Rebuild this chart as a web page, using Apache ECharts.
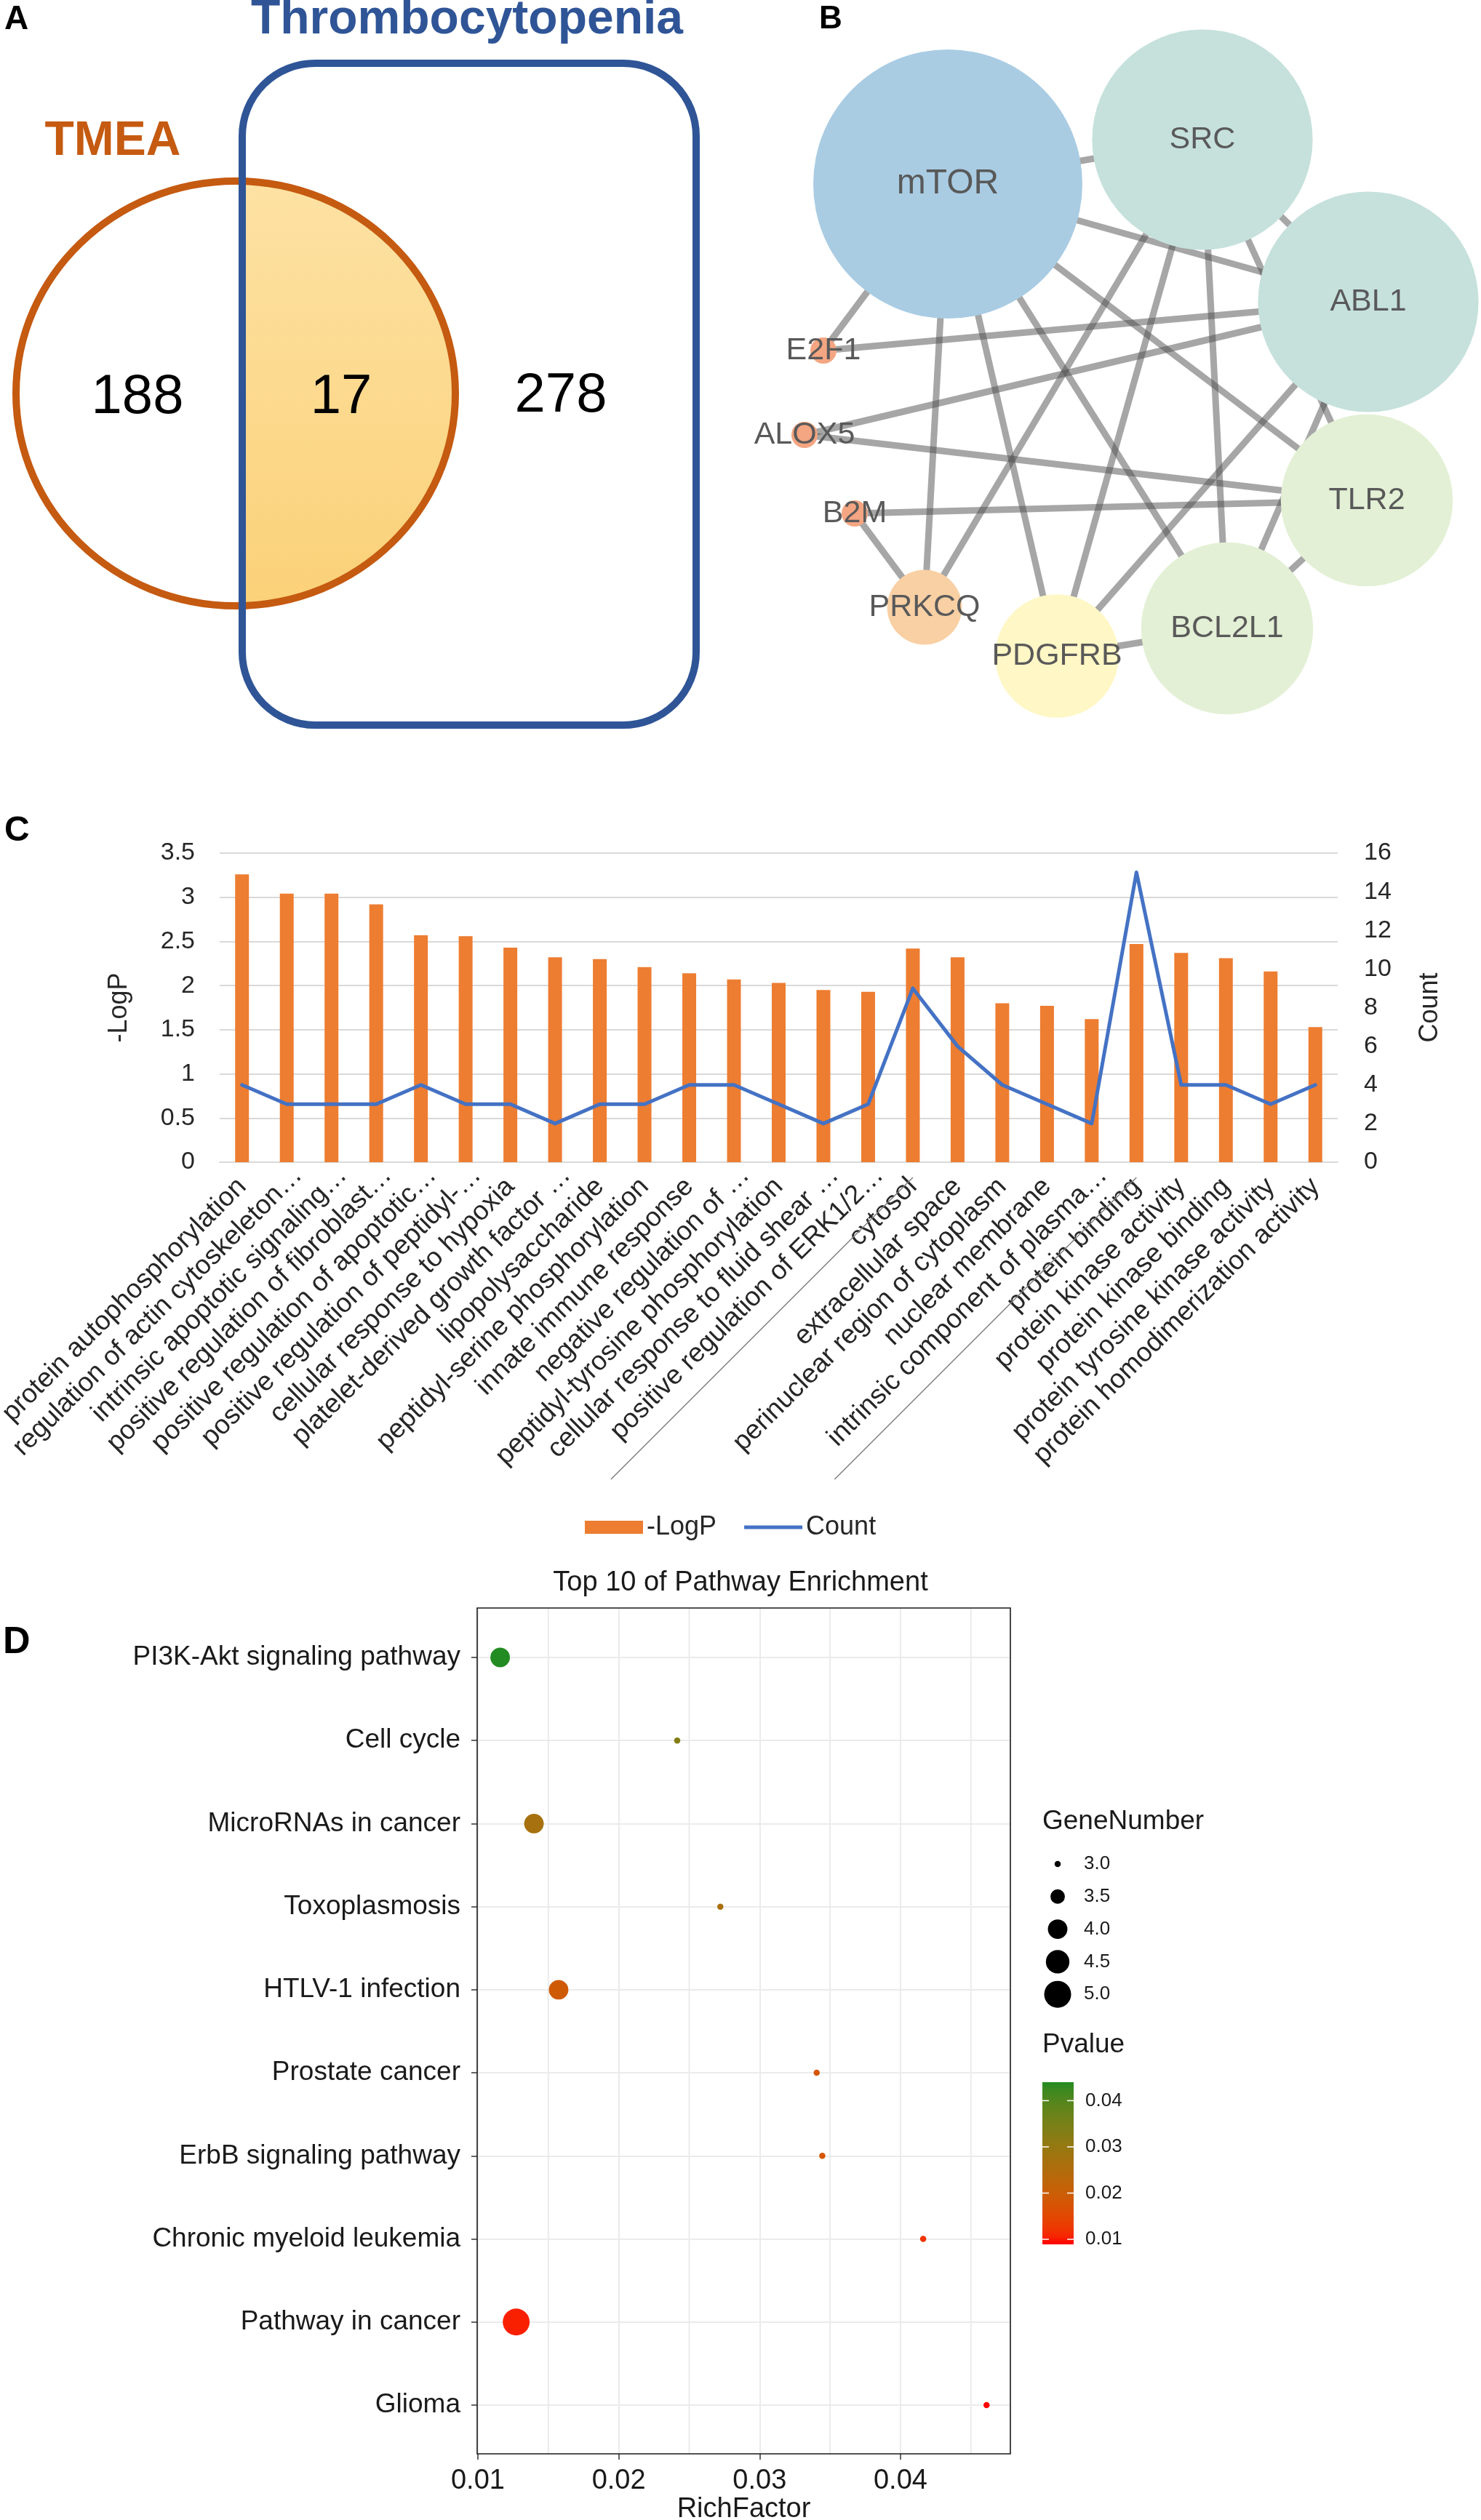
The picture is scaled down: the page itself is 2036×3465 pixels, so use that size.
<!DOCTYPE html>
<html><head><meta charset="utf-8">
<script src="https://cdn.jsdelivr.net/npm/echarts@6/dist/echarts.min.js"></script>
<style>html,body{margin:0;padding:0;background:#fff}#main{width:2036px;height:3465px}</style>
</head><body><div id="main"></div>
<script>
// ================= DATA =================
// Panel A: Venn
const vennSets = ['TMEA', 'Thrombocytopenia'];
const vennCounts = [188, 17, 278]; // TMEA only, shared, Thrombocytopenia only

// Panel B: PPI network (layout coordinates of the network drawing)
const ppiNodes = ['mTOR', 'SRC', 'ABL1', 'TLR2', 'BCL2L1', 'PDGFRB', 'PRKCQ', 'B2M', 'ALOX5', 'E2F1'];
const ppiNodeX = [1303, 1653, 1881, 1879, 1687, 1453, 1271, 1175, 1106, 1132];
const ppiNodeY = [253, 192, 415, 688, 864, 902, 835, 706, 598, 482];
const ppiEdges = [
  ['mTOR', 'SRC'], ['mTOR', 'ABL1'], ['mTOR', 'TLR2'], ['mTOR', 'BCL2L1'], ['mTOR', 'PDGFRB'],
  ['mTOR', 'PRKCQ'], ['mTOR', 'E2F1'], ['SRC', 'ABL1'], ['SRC', 'PRKCQ'], ['SRC', 'PDGFRB'],
  ['SRC', 'BCL2L1'], ['SRC', 'TLR2'], ['ABL1', 'E2F1'], ['ABL1', 'ALOX5'], ['ABL1', 'PDGFRB'],
  ['ABL1', 'BCL2L1'], ['TLR2', 'ALOX5'], ['TLR2', 'B2M'], ['TLR2', 'BCL2L1'], ['BCL2L1', 'PDGFRB'],
  ['B2M', 'PRKCQ']
];

// Panel C: GO enrichment
const goTerms = [
  'protein autophosphorylation', 'regulation of actin cytoskeleton…', 'intrinsic apoptotic signaling…',
  'positive regulation of fibroblast…', 'positive regulation of apoptotic…', 'positive regulation of peptidyl-…',
  'cellular response to hypoxia', 'platelet-derived growth factor …', 'lipopolysaccharide',
  'peptidyl-serine phosphorylation', 'innate immune response', 'negative regulation of …',
  'peptidyl-tyrosine phosphorylation', 'cellular response to fluid shear …', 'positive regulation of ERK1/2…',
  'cytosol', 'extracellular space', 'perinuclear region of cytoplasm', 'nuclear membrane',
  'intrinsic component of plasma…', 'protein binding', 'protein kinase activity', 'protein kinase binding',
  'protein tyrosine kinase activity', 'protein homodimerization activity'
];
const goGroup = ['BP','BP','BP','BP','BP','BP','BP','BP','BP','BP','BP','BP','BP','BP','BP',
                 'CC','CC','CC','CC','CC','MF','MF','MF','MF','MF'];
const goLogP = [3.26, 3.04, 3.04, 2.92, 2.57, 2.56, 2.43, 2.32, 2.30, 2.21, 2.14, 2.07, 2.03,
                1.95, 1.93, 2.42, 2.32, 1.80, 1.77, 1.62, 2.47, 2.37, 2.31, 2.16, 1.53];
const goCount = [4, 3, 3, 3, 4, 3, 3, 2, 3, 3, 4, 4, 3, 2, 3, 9, 6, 4, 3, 2, 15, 4, 4, 3, 4];
const logPAxis = { min: 0, max: 3.5, step: 0.5 };
const countAxis = { min: 0, max: 16, step: 2 };

// Panel D: KEGG pathways
const pathways = ['PI3K-Akt signaling pathway', 'Cell cycle', 'MicroRNAs in cancer', 'Toxoplasmosis',
  'HTLV-1 infection', 'Prostate cancer', 'ErbB signaling pathway', 'Chronic myeloid leukemia',
  'Pathway in cancer', 'Glioma'];
const richFactor = [0.01158, 0.02415, 0.01398, 0.02721, 0.01573, 0.03405, 0.03445, 0.04161, 0.01272, 0.04611];
const geneNumber = [4, 3, 4, 3, 4, 3, 3, 3, 5, 3];
const pValue = [0.044, 0.033, 0.027, 0.026, 0.019, 0.018, 0.018, 0.012, 0.0104, 0.0089];
const richRange = [0.00995, 0.0478];
const richTicks = [0.01, 0.02, 0.03, 0.04];
const richMinor = [0.015, 0.025, 0.035, 0.045];
const geneLegend = [3.0, 3.5, 4.0, 4.5, 5.0];
const pTicks = [0.01, 0.02, 0.03, 0.04];

// ================= HELPERS =================
const FONT = '"Liberation Sans", Arial, Helvetica, sans-serif';
function hex2rgb(h){h=h.replace('#','');return [0,2,4].map(i=>parseInt(h.substr(i,2),16));}
function toLin(c){c/=255;return c<=0.04045?c/12.92:Math.pow((c+0.055)/1.055,2.4);}
function toS(c){c=c<=0.0031308?12.92*c:1.055*Math.pow(c,1/2.4)-0.055;return Math.round(Math.min(1,Math.max(0,c))*255);}
function rgb2lab(rgb){const [r,g,b]=rgb.map(toLin);
  const X=(0.4124564*r+0.3575761*g+0.1804375*b)/0.95047,Y=(0.2126729*r+0.7151522*g+0.0721750*b),Z=(0.0193339*r+0.1191920*g+0.9503041*b)/1.08883;
  const f=t=>t>0.008856?Math.cbrt(t):7.787*t+16/116;const fx=f(X),fy=f(Y),fz=f(Z);
  return [116*fy-16,500*(fx-fy),200*(fy-fz)];}
function lab2rgb(lab){const [L,a,b]=lab;const fy=(L+16)/116,fx=fy+a/500,fz=fy-b/200;
  const fi=t=>{const t3=t*t*t;return t3>0.008856?t3:(t-16/116)/7.787;};
  const X=0.95047*fi(fx),Y=fi(fy),Z=1.08883*fi(fz);
  const r=3.2404542*X-1.5371385*Y-0.4985314*Z,g=-0.9692660*X+1.8760108*Y+0.0415560*Z,bb=0.0556434*X-0.2040259*Y+1.0572252*Z;
  return 'rgb('+[r,g,bb].map(toS).join(',')+')';}
function labRamp(lo,hi,n){const A=rgb2lab(hex2rgb(lo)),B=rgb2lab(hex2rgb(hi));const out=[];
  for(let k=0;k<n;k++){const t=k/(n-1);out.push(lab2rgb([0,1,2].map(j=>A[j]+(B[j]-A[j])*t)));}return out;}

const pColors = labRamp('#FF0000', '#228B22', 21);
const pMin = Math.min.apply(null, pValue), pMax = Math.max.apply(null, pValue);
function geneSize(n){ return Math.sqrt(72 + (n - 3) / 2 * (1369 - 72)); }

const degree = {};
ppiNodes.forEach(n => degree[n] = 0);
ppiEdges.forEach(e => { degree[e[0]]++; degree[e[1]]++; });
const degColor = {2:'#F4A582', 3:'#F9D0A4', 4:'#FFF7C5', 5:'#E3F0D5', 6:'#C6E1DC', 7:'#A9CCE3'};
function nodeSize(d){ return 36 + (d - 2) * 66.8; }

function txt(id, text, x, y, size, weight, color, align){
  return {type:'text', id:id, x:x, y:y, z:100, silent:true,
    style:{text:String(text), fontSize:size, fontWeight:weight, fontFamily:FONT, fill:color,
           align:align || 'center', verticalAlign:'middle'}};
}

// ================= STATIC GRAPHICS =================
const ell = {cx:324, cy:541, rx:302, ry:292};
const box = {x:333, y:87, width:624, height:910, r:100};
const staticG = [
  {type:'ellipse', id:'ellFill', z:1, silent:true, shape:ell,
    style:{fill:{type:'linear', x:0, y:0, x2:0, y2:1, colorStops:[{offset:0, color:'#FDE2A4'},{offset:1, color:'#FBD178'}]}}},
  {type:'rect', id:'ellMask', z:2, silent:true, shape:{x:0, y:ell.cy-ell.ry-10, width:box.x, height:2*ell.ry+20}, style:{fill:'#ffffff'}},
  {type:'ellipse', id:'ellLine', z:3, silent:true, shape:ell, style:{fill:'none', stroke:'#C55A11', lineWidth:10}},
  {type:'rect', id:'boxLine', z:4, silent:true, shape:box, style:{fill:'none', stroke:'#2F5597', lineWidth:10}},
  txt('tTMEA', vennSets[0], 155, 195, 66, 'bold', '#C55A11'),
  txt('tThr', vennSets[1], 642, 28, 66, 'bold', '#2F5597'),
  txt('n1', vennCounts[0], 189, 547, 76, 'normal', '#000'),
  txt('n2', vennCounts[1], 469, 547, 76, 'normal', '#000'),
  txt('n3', vennCounts[2], 771, 545, 76, 'normal', '#000'),
  txt('lA', 'A', 6, 27, 46, 'bold', '#000', 'left'),
  txt('lB', 'B', 1126, 27, 44, 'bold', '#000', 'left'),
  txt('lC', 'C', 6, 1143, 48, 'bold', '#000', 'left'),
  txt('lD', 'D', 4, 2259, 52, 'bold', '#000', 'left'),
  // panel D frame
  {type:'rect', id:'dFrame', z:50, silent:true, shape:{x:656, y:2211, width:733, height:1163}, style:{fill:'none', stroke:'#1a1a1a', lineWidth:1.6}},
  // legends of panel D
  txt('gnTitle', 'GeneNumber', 1433, 2505, 37, 'normal', '#1a1a1a', 'left'),
  txt('pvTitle', 'Pvalue', 1433, 2812, 37, 'normal', '#1a1a1a', 'left'),
  {type:'rect', id:'cbar', z:40, silent:true, shape:{x:1433, y:2863, width:43, height:223},
    style:{fill:{type:'linear', x:0, y:0, x2:0, y2:1,
      colorStops: pColors.map((c,k)=>({offset:k/(pColors.length-1), color:pColors[pColors.length-1-k]}))}}}
];
geneLegend.forEach((v, k) => {
  const cy = 2563 + k * 44.8;
  staticG.push({type:'circle', id:'gl'+k, z:40, silent:true, shape:{cx:1454, cy:cy, r:geneSize(v)/2}, style:{fill:'#000'}});
  staticG.push(txt('glt'+k, v.toFixed(1), 1490, cy, 26, 'normal', '#1a1a1a', 'left'));
});
pTicks.forEach((v, k) => {
  const y = 2863 + 223 - (v - pMin) / (pMax - pMin) * 223;
  staticG.push(txt('pt'+k, v.toFixed(2), 1492, y, 26, 'normal', '#1a1a1a', 'left'));
  staticG.push({type:'line', id:'ptl'+k, z:41, silent:true, shape:{x1:1433, y1:y, x2:1442, y2:y}, style:{stroke:'#fff', lineWidth:1.5}});
  staticG.push({type:'line', id:'ptr'+k, z:41, silent:true, shape:{x1:1467, y1:y, x2:1476, y2:y}, style:{stroke:'#fff', lineWidth:1.5}});
});

// ================= OPTION =================
const gx0 = Math.min.apply(null, ppiNodeX), gx1 = Math.max.apply(null, ppiNodeX);
const gy0 = Math.min.apply(null, ppiNodeY), gy1 = Math.max.apply(null, ppiNodeY);

const chart = echarts.init(document.getElementById('main'), null, {width:2036, height:3465});
const option = {
  animation: false,
  backgroundColor: '#ffffff',
  textStyle: {fontFamily: FONT},
  title: {text:'Top 10 of Pathway Enrichment', left:'center', top:2158, padding:0,
    textStyle:{fontSize:38, fontWeight:'normal', color:'#1a1a1a', fontFamily:FONT}},
  legend: {data:[{name:'-LogP', icon:'rect'},
                 {name:'Count', icon:'path://M0,0M80,18M0,6.5L80,6.5L80,11.5L0,11.5Z'}],
    left:799, top:2077, itemWidth:80, itemHeight:18,
    itemGap:38, selectedMode:false, textStyle:{fontSize:36, color:'#262626', fontFamily:FONT}},
  grid: [
    {left:302, top:1173, width:1537, height:425, outerBoundsMode:'none', containLabel:false},
    {left:656, top:2211, width:733, height:1163, outerBoundsMode:'none', containLabel:false},
    {left:656, top:2279, width:733, height:1028, outerBoundsMode:'none', containLabel:false}
  ],
  xAxis: [
    {type:'category', gridIndex:0, data:goTerms, boundaryGap:true,
      axisLine:{show:true, lineStyle:{color:'#D9D9D9', width:2}}, axisTick:{show:false},
      axisLabel:{interval:0, rotate:45, fontSize:37, color:'#262626', margin:28, fontFamily:FONT, hideOverlap:false,
        formatter: v => /…$/.test(v) ? '{e|' + v + '}' : v,
        rich:{e:{fontSize:37, color:'#262626', fontFamily:FONT, padding:[0, -22, 0, 0]}}}},
    {type:'value', gridIndex:1, min:richRange[0], max:richRange[1], splitNumber:4,
      axisLine:{show:false},
      axisTick:{show:true, length:8, lineStyle:{color:'#333', width:1.5}, customValues:richTicks},
      axisLabel:{customValues:richTicks, fontSize:38, color:'#1a1a1a', margin:19, fontFamily:FONT,
        formatter: v => richTicks.some(t => Math.abs(t - v) < 1e-7) ? v.toFixed(2) : ''},
      splitLine:{show:true, lineStyle:{color:'#EBEBEB', width:2}},
      name:'RichFactor', nameLocation:'middle', nameGap:55,
      nameTextStyle:{fontSize:38, color:'#1a1a1a', fontFamily:FONT}},
    {type:'value', gridIndex:2, min:richRange[0], max:richRange[1], show:false}
  ],
  yAxis: [
    {type:'value', gridIndex:0, position:'left', min:logPAxis.min, max:logPAxis.max, interval:logPAxis.step,
      axisLine:{show:false}, axisTick:{show:false},
      axisLabel:{fontSize:34, color:'#262626', margin:34, fontFamily:FONT},
      splitLine:{show:true, lineStyle:{color:'#D9D9D9', width:2}},
      name:'-LogP', nameLocation:'middle', nameGap:120, nameRotate:90,
      nameTextStyle:{fontSize:36, color:'#262626', fontFamily:FONT}},
    {type:'value', gridIndex:0, position:'right', min:countAxis.min, max:countAxis.max, interval:countAxis.step,
      axisLine:{show:false}, axisTick:{show:false},
      axisLabel:{fontSize:34, color:'#262626', margin:36, fontFamily:FONT},
      splitLine:{show:false},
      name:'Count', nameLocation:'middle', nameGap:109, nameRotate:90,
      nameTextStyle:{fontSize:36, color:'#262626', fontFamily:FONT}},
    {type:'value', gridIndex:1, min:0, max:1, show:false},
    {type:'value', gridIndex:2, min:0, max:pathways.length - 1, interval:1, inverse:true,
      axisLine:{show:false},
      axisTick:{show:true, length:8, lineStyle:{color:'#333', width:1.5}},
      axisLabel:{fontSize:37, color:'#1a1a1a', margin:23, fontFamily:FONT,
        formatter: v => pathways[Math.round(v)] || ''},
      splitLine:{show:true, lineStyle:{color:'#EBEBEB', width:2}}}
  ],
  visualMap: [{type:'continuous', show:false, seriesIndex:3, dimension:3, min:pMin, max:pMax,
    inRange:{color:pColors}}],
  series: [
    {type:'bar', name:'-LogP', xAxisIndex:0, yAxisIndex:0, data:goLogP, barWidth:19,
      itemStyle:{color:'#ED7D31'}, emphasis:{disabled:true}},
    {type:'line', name:'Count', xAxisIndex:0, yAxisIndex:1, data:goCount, symbol:'none', showSymbol:false,
      color:'#4472C4', lineStyle:{color:'#4472C4', width:5, cap:'round', join:'round'}, emphasis:{disabled:true}},
    {type:'custom', name:'minorGrid', xAxisIndex:1, yAxisIndex:2, silent:true,
      data: richMinor.map(v => [v, 0]), encode:{x:0, y:1},
      renderItem: function (params, api) {
        const x = api.value(0);
        const a = api.coord([x, 0]), b = api.coord([x, 1]);
        return {type:'line', shape:{x1:a[0], y1:a[1], x2:b[0], y2:b[1]}, style:{stroke:'#EBEBEB', lineWidth:2}};
      }},
    {type:'scatter', name:'pathway', xAxisIndex:2, yAxisIndex:3, clip:false,
      data: pathways.map((p, i) => [richFactor[i], i, geneNumber[i], pValue[i]]),
      symbolSize: v => geneSize(v[2]), itemStyle:{opacity:1}, emphasis:{disabled:true}},
    {type:'graph', layout:'none', left:gx0, top:gy0, width:gx1 - gx0, height:gy1 - gy0,
      roam:false, silent:true,
      data: ppiNodes.map((n, i) => ({name:n, x:ppiNodeX[i], y:ppiNodeY[i], value:degree[n],
        symbolSize: nodeSize(degree[n]), itemStyle:{color:degColor[degree[n]]},
        label:{fontSize: degree[n] >= 7 ? 48 : 43}})),
      links: ppiEdges.map(e => ({source:e[0], target:e[1]})),
      label:{show:true, position:'inside', color:'#595959', fontSize:43, fontFamily:FONT},
      lineStyle:{color:'#4d4d4d', opacity:0.5, width:9, curveness:0},
      emphasis:{disabled:true}}
  ],
  graphic: {elements: staticG}
};
chart.setOption(option);

// separators between GO groups (drawn parallel to the rotated labels)
const axisY = chart.convertToPixel({yAxisIndex:0}, 0);
const extraG = [];
for (let i = 1; i < goTerms.length; i++) {
  if (goGroup[i] !== goGroup[i - 1]) {
    const cx = chart.convertToPixel({xAxisIndex:0}, i);
    const y0 = axisY + 21, len = 415;
    extraG.push({type:'line', id:'sep'+i, z:30, silent:true,
      shape:{x1:cx, y1:y0, x2:cx - len, y2:y0 + len}, style:{stroke:'#808080', lineWidth:1.5}});
  }
}
chart.setOption({graphic: {elements: staticG.concat(extraG)}}, {replaceMerge:['graphic']});
</script></body></html>
